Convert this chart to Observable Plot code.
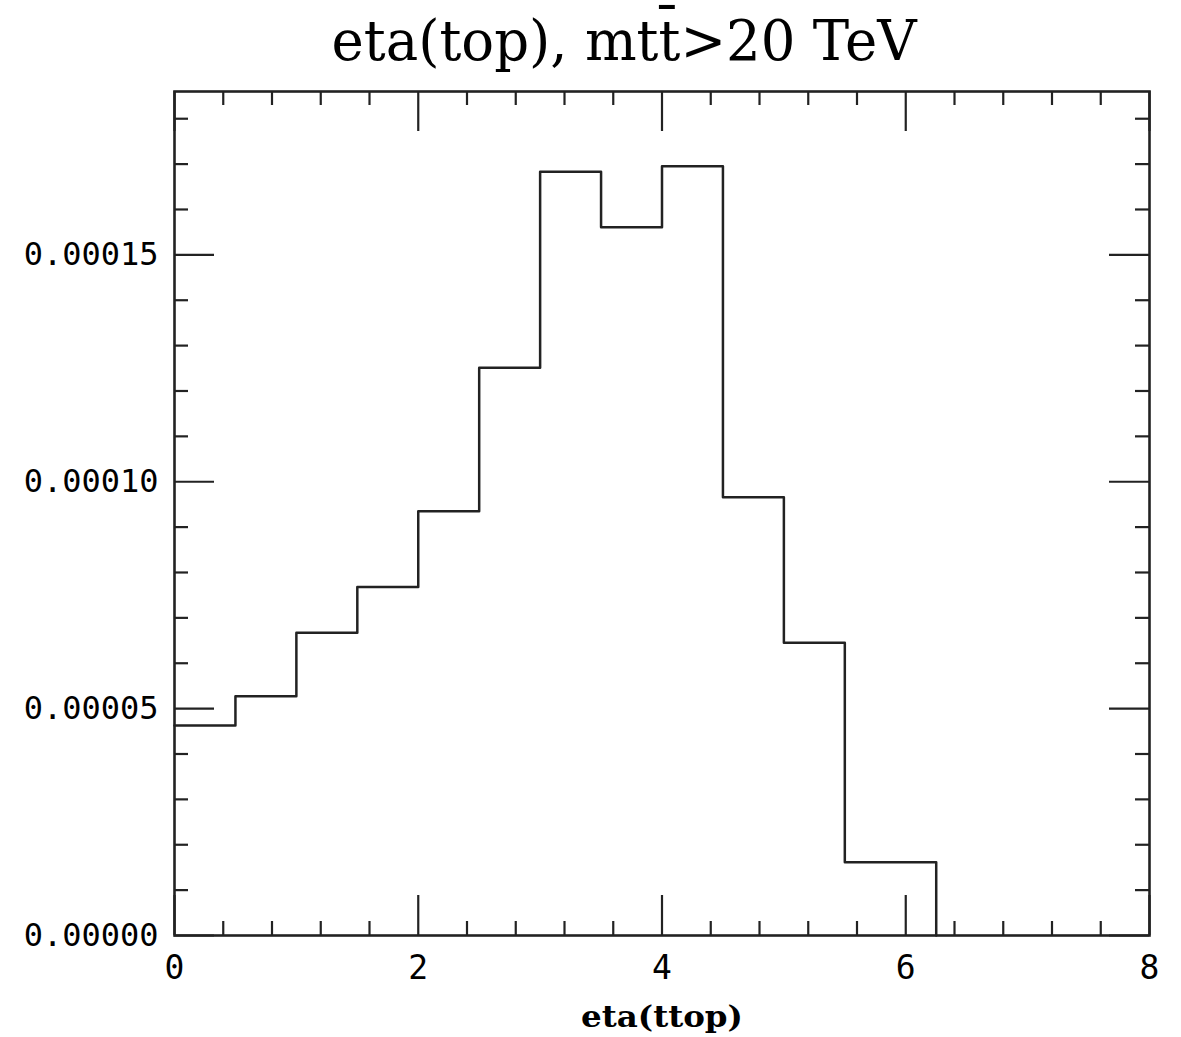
<!DOCTYPE html>
<html><head><meta charset="utf-8">
<script src="https://cdn.jsdelivr.net/npm/d3@7"></script>
<script src="https://cdn.jsdelivr.net/npm/@observablehq/plot@0.6"></script>
<style>body{margin:0;background:#fff}</style>
</head><body><div id="chart"></div>
<script>
// Histogram data (bin edges and bin heights)
const binEdges = [0, 0.5, 1, 1.5, 2, 2.5, 3, 3.5, 4, 4.5, 5, 5.5, 6.25];
const binValues = [4.63e-5, 5.27e-5, 6.67e-5, 7.68e-5, 9.35e-5, 1.251e-4, 1.683e-4, 1.561e-4, 1.695e-4, 9.66e-5, 6.45e-5, 1.615e-5];

// Axis ticks
const xMajorTicks = [0, 2, 4, 6, 8];
const xMinorTicks = [0.4, 0.8, 1.2, 1.6, 2.4, 2.8, 3.2, 3.6, 4.4, 4.8, 5.2, 5.6, 6.4, 6.8, 7.2, 7.6];
const yMajorTicks = [0, 0.00005, 0.0001, 0.00015];
const yMinorTicks = [0.00001, 0.00002, 0.00003, 0.00004, 0.00006, 0.00007, 0.00008, 0.00009, 0.00011, 0.00012, 0.00013, 0.00014, 0.00016, 0.00017, 0.00018];

const titleText = "eta(top), mtt\u0304>20 TeV";
const xLabelText = "eta(ttop)";

// Step line points built from the bins
const stepPoints = binEdges.slice(0, -1).map((x, i) => ({x, y: binValues[i]}));
stepPoints.push({x: binEdges[binEdges.length - 1], y: binValues[binValues.length - 1]});
stepPoints.push({x: binEdges[binEdges.length - 1], y: 0});

const W = 1181, H = 1037, mL = 174, mR = 32, mT = 91, mB = 102;
const innerW = W - mL - mR, innerH = H - mT - mB;
const major = 40, minor = 14;
const ink = "#222";
const tickFont = "DejaVu Sans Mono";

const chart = Plot.plot({
  width: W, height: H,
  marginLeft: mL, marginRight: mR, marginTop: mT, marginBottom: mB,
  x: {domain: [0, 8]},
  y: {domain: [0, 0.000186]},
  style: {background: "#fff", color: "#000"},
  marks: [
    // x ticks bottom & top (inward)
    Plot.ruleX(xMajorTicks, {insetTop: innerH - major, stroke: ink, strokeWidth: 2.2}),
    Plot.ruleX(xMajorTicks, {insetBottom: innerH - major, stroke: ink, strokeWidth: 2.2}),
    Plot.ruleX(xMinorTicks, {insetTop: innerH - minor, stroke: ink, strokeWidth: 2.2}),
    Plot.ruleX(xMinorTicks, {insetBottom: innerH - minor, stroke: ink, strokeWidth: 2.2}),
    // y ticks left & right (inward)
    Plot.ruleY(yMajorTicks, {insetRight: innerW - major, stroke: ink, strokeWidth: 2.2}),
    Plot.ruleY(yMajorTicks, {insetLeft: innerW - major, stroke: ink, strokeWidth: 2.2}),
    Plot.ruleY(yMinorTicks, {insetRight: innerW - minor, stroke: ink, strokeWidth: 2.2}),
    Plot.ruleY(yMinorTicks, {insetLeft: innerW - minor, stroke: ink, strokeWidth: 2.2}),
    Plot.axisX({ticks: xMajorTicks, tickSize: 0, tickPadding: 20, tickFormat: d3.format("d"),
      fontSize: 33, fontFamily: tickFont, fill: "#000", label: null}),
    Plot.axisY({ticks: yMajorTicks, tickSize: 0, tickPadding: 16, tickFormat: d3.format(".5f"),
      fontSize: 32, fontFamily: tickFont, fill: "#000", label: null}),
    Plot.line(stepPoints, {x: "x", y: "y", curve: "step-after", stroke: ink, strokeWidth: 2.5}),
    Plot.frame({stroke: ink, strokeWidth: 2.6}),
    Plot.text([titleText], {frameAnchor: "top", dx: -38, dy: -32, lineAnchor: "bottom",
      fontSize: 56, fontFamily: "DejaVu Serif", fill: "#000"}),
    Plot.text([xLabelText], {frameAnchor: "bottom", dy: 91, lineAnchor: "bottom",
      fontSize: 29, fontWeight: "bold", fontFamily: "DejaVu Serif", fill: "#000"})
  ]
});
document.getElementById("chart").appendChild(chart);
// fit text widths to the reference
chart.querySelectorAll("text").forEach(t => {
  if (t.textContent === titleText) { t.setAttribute("textLength", 585); t.setAttribute("lengthAdjust", "spacingAndGlyphs"); }
  if (t.textContent === xLabelText) { t.setAttribute("textLength", 162); t.setAttribute("lengthAdjust", "spacingAndGlyphs"); }
});
</script>
</body></html>
